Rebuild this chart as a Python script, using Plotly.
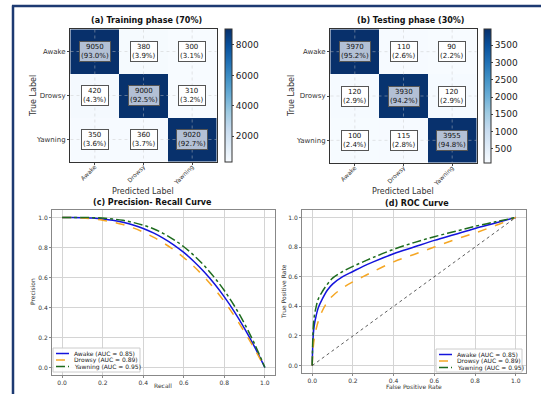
import plotly.graph_objects as go

W, H = 541, 394

classes = ["Awake", "Drowsy", "Yawning"]

train_counts = [[9050, 380, 300],
                [420, 9000, 310],
                [350, 360, 9020]]
train_pct = [["93.0%", "3.9%", "3.1%"],
             ["4.3%", "92.5%", "3.2%"],
             ["3.6%", "3.7%", "92.7%"]]

test_counts = [[3970, 110, 90],
               [120, 3930, 120],
               [100, 115, 3955]]
test_pct = [["95.2%", "2.6%", "2.2%"],
            ["2.9%", "94.2%", "2.9%"],
            ["2.4%", "2.8%", "94.8%"]]

recall = [0.0, 0.05, 0.1, 0.15, 0.2, 0.25, 0.3, 0.35, 0.4, 0.45, 0.5,
          0.55, 0.6, 0.65, 0.7, 0.75, 0.8, 0.85, 0.9, 0.95, 1.0]
prec_awake = [1.0, 1.0, 0.999, 0.996, 0.990, 0.981, 0.968, 0.950, 0.927, 0.897, 0.861,
              0.818, 0.767, 0.707, 0.638, 0.560, 0.471, 0.371, 0.259, 0.136, 0.0]
prec_drowsy = [1.0, 1.0, 0.997, 0.991, 0.982, 0.970, 0.953, 0.931, 0.903, 0.869, 0.830,
               0.785, 0.733, 0.673, 0.605, 0.527, 0.440, 0.343, 0.236, 0.121, 0.0]
prec_yawning = [1.0, 1.0, 1.0, 0.999, 0.996, 0.990, 0.981, 0.967, 0.949, 0.925, 0.893,
                0.853, 0.805, 0.747, 0.680, 0.602, 0.513, 0.410, 0.291, 0.155, 0.0]

fpr = [0.0, 0.005, 0.01, 0.02, 0.03, 0.05, 0.075, 0.1, 0.15, 0.2, 0.25, 0.3,
       0.4, 0.5, 0.6, 0.7, 0.8, 0.9, 1.0]
tpr_awake = [0.0, 0.2, 0.27, 0.34, 0.39, 0.45, 0.51, 0.55, 0.60, 0.635, 0.67, 0.70,
             0.755, 0.80, 0.845, 0.885, 0.925, 0.962, 1.0]
tpr_drowsy = [0.0, 0.12, 0.18, 0.25, 0.30, 0.37, 0.43, 0.47, 0.525, 0.565, 0.60, 0.635,
              0.70, 0.75, 0.80, 0.85, 0.895, 0.945, 1.0]
tpr_yawning = [0.0, 0.25, 0.33, 0.40, 0.45, 0.50, 0.55, 0.59, 0.635, 0.67, 0.70, 0.73,
               0.785, 0.83, 0.87, 0.905, 0.94, 0.97, 1.0]
chance = [0.0, 1.0]

legend_names = ["Awake (AUC = 0.85)", "Drowsy (AUC = 0.89)", "Yawning (AUC = 0.95)"]


def px_x(p):
    return p / W


def px_y(p):
    return 1 - p / H


fig = go.Figure()
FONT = "DejaVu Sans"
TXT = "#333"


# ---------- heatmaps ----------
def add_cm(counts, pct, xa, ya, cb_x, cb_y0, cb_y1, dtick):
    zmin = min(min(r) for r in counts)
    zmax = max(max(r) for r in counts)
    fig.add_trace(go.Heatmap(
        z=counts, x=classes, y=classes, xaxis=xa, yaxis=ya,
        colorscale="Blues", zmin=zmin, zmax=zmax, showscale=True,
        hoverinfo="skip",
        colorbar=dict(x=px_x(cb_x), xanchor="left", thickness=7,
                      len=(cb_y1 - cb_y0) / H, y=px_y((cb_y0 + cb_y1) / 2),
                      yanchor="middle", outlinewidth=1, outlinecolor="#333",
                      tickfont=dict(size=9, color="#222", family=FONT),
                      ticks="outside", ticklen=2, dtick=dtick, tick0=0,
                      xpad=0, ypad=0)))
    xref = xa.replace("axis", "")
    yref = ya.replace("axis", "")
    for k in range(3):
        fig.add_shape(type="line", xref=xref, yref=yref, x0=k, x1=k, y0=-0.5, y1=2.5,
                      line=dict(color="rgba(200,200,200,0.45)", width=1, dash="dot"),
                      layer="above")
        fig.add_shape(type="line", xref=xref, yref=yref, x0=-0.5, x1=2.5, y0=k, y1=k,
                      line=dict(color="rgba(200,200,200,0.45)", width=1, dash="dot"),
                      layer="above")
    for i in range(3):
        for j in range(3):
            diag = i == j
            fig.add_annotation(
                x=classes[j], y=classes[i], xref=xref, yref=yref,
                text=f"{counts[i][j]}<br>({pct[i][j]})", showarrow=False,
                font=dict(size=7, color="#111", family=FONT),
                bgcolor="#b3c0d5" if diag else "white",
                bordercolor="#555", borderwidth=1, borderpad=1)


add_cm(train_counts, train_pct, "x", "y", 225, 29, 162, 2000)
add_cm(test_counts, test_pct, "x2", "y2", 484, 29, 163, 500)

hm_axis = dict(showgrid=False, zeroline=False, showline=True, linecolor="#333",
               linewidth=1, mirror=True, ticks="outside", ticklen=2)
xfont = dict(size=6, color=TXT, family=FONT)
yfont = dict(size=7, color=TXT, family=FONT)

fig.update_layout(
    xaxis=dict(domain=[px_x(70), px_x(217)], anchor="y", tickangle=-45,
               tickfont=xfont, ticklabelstandoff=-4, **hm_axis),
    yaxis=dict(domain=[px_y(162), px_y(29)], anchor="x", autorange="reversed",
               tickfont=yfont, **hm_axis),
    xaxis2=dict(domain=[px_x(330), px_x(477)], anchor="y2", tickangle=-45,
                tickfont=xfont, ticklabelstandoff=-4, **hm_axis),
    yaxis2=dict(domain=[px_y(163), px_y(29)], anchor="x2", autorange="reversed",
                tickfont=yfont, **hm_axis),
)

# ---------- PR and ROC curves ----------
styles = [dict(color="#1414dc", dash="solid"),
          dict(color="#f5a623", dash="dash"),
          dict(color="#1e6b1e", dash="dashdot")]

pr_series = [prec_awake, prec_drowsy, prec_yawning]
for k in range(3):
    fig.add_trace(go.Scatter(x=recall, y=pr_series[k], mode="lines", name=legend_names[k],
                             line=dict(width=1.5, shape="spline", **styles[k]),
                             xaxis="x3", yaxis="y3", showlegend=False, hoverinfo="skip"))

roc_series = [tpr_awake, tpr_drowsy, tpr_yawning]
for k in range(3):
    fig.add_trace(go.Scatter(x=fpr, y=roc_series[k], mode="lines", name=legend_names[k],
                             line=dict(width=1.5, shape="spline", **styles[k]),
                             xaxis="x4", yaxis="y4", showlegend=False, hoverinfo="skip"))
fig.add_trace(go.Scatter(x=chance, y=chance, mode="lines", showlegend=False,
                         line=dict(width=0.8, color="#333", dash="dot"),
                         xaxis="x4", yaxis="y4", hoverinfo="skip"))

curve_axis = dict(range=[-0.05, 1.05], dtick=0.2, tickformat=".1f", showgrid=True,
                  gridcolor="#d4d4d4", gridwidth=1, zeroline=False, showline=True,
                  linecolor="#888", linewidth=1, mirror=True, ticks="outside",
                  ticklen=2, tickcolor="#888",
                  tickfont=dict(size=6, color=TXT, family=FONT))

fig.update_layout(
    xaxis3=dict(domain=[px_x(52), px_x(275)], anchor="y3", **curve_axis),
    yaxis3=dict(domain=[px_y(375), px_y(210)], anchor="x3", **curve_axis),
    xaxis4=dict(domain=[px_x(302), px_x(526)], anchor="y4", **curve_axis),
    yaxis4=dict(domain=[px_y(373), px_y(210)], anchor="x4", **curve_axis),
)


# ---------- compact legends ----------
def add_legend(x0, x1, y0, y1):
    fig.add_shape(type="rect", xref="paper", yref="paper",
                  x0=px_x(x0), x1=px_x(x1), y0=px_y(y1), y1=px_y(y0),
                  line=dict(color="#cccccc", width=1),
                  fillcolor="rgba(255,255,255,0.9)", layer="above")
    rows = [y0 + 5.5, y0 + 12, y0 + 18.5]
    for k in range(3):
        fig.add_shape(type="line", xref="paper", yref="paper",
                      x0=px_x(x0 + 3), x1=px_x(x0 + 16), y0=px_y(rows[k]), y1=px_y(rows[k]),
                      line=dict(width=1.5, **styles[k]), layer="above")
        fig.add_annotation(x=px_x(x0 + 19), y=px_y(rows[k]), xref="paper", yref="paper",
                           text=legend_names[k], showarrow=False, xanchor="left",
                           yanchor="middle", font=dict(size=6, color="#222", family=FONT))


add_legend(53, 140, 348, 372)
add_legend(436, 522, 349, 372)

# ---------- titles ----------
titles = [("(a) Training phase (70%)", 146, 21),
          ("(b) Testing phase (30%)", 410, 21),
          ("(c) Precision- Recall Curve", 152, 202),
          ("(d) ROC Curve", 417, 203)]
for txt, xx, yy in titles:
    fig.add_annotation(x=px_x(xx), y=px_y(yy), xref="paper", yref="paper",
                       text=f"<b>{txt}</b>", showarrow=False,
                       font=dict(size=8, color="#111", family=FONT),
                       xanchor="center", yanchor="middle")

# ---------- axis titles ----------
axis_titles = [("Predicted Label", 143, 191, 0, 8),
               ("Predicted Label", 403, 191, 0, 8),
               ("True Label", 33, 96, -90, 8),
               ("True Label", 291, 96, -90, 8),
               ("Recall", 163, 385, 0, 6),
               ("Precision", 32, 292, -90, 6),
               ("False Positive Rate", 414, 386, 0, 6),
               ("True Positive Rate", 283, 292, -90, 6)]
for txt, xx, yy, ang, fs in axis_titles:
    fig.add_annotation(x=px_x(xx), y=px_y(yy), xref="paper", yref="paper",
                       text=txt, showarrow=False, textangle=ang,
                       font=dict(size=fs, color=TXT, family=FONT),
                       xanchor="center", yanchor="middle")

# ---------- frame ----------
fig.add_shape(type="line", xref="paper", yref="paper", x0=px_x(13), x1=px_x(13),
              y0=0, y1=px_y(5.5), line=dict(color="#1d3a72", width=2.5))
fig.add_shape(type="line", xref="paper", yref="paper", x0=px_x(12), x1=1,
              y0=px_y(6), y1=px_y(6), line=dict(color="#1d3a72", width=2.5))

fig.update_layout(width=W, height=H, margin=dict(l=0, r=0, t=0, b=0),
                  paper_bgcolor="white", plot_bgcolor="white", showlegend=False,
                  font=dict(family=FONT))

fig.write_html("out.html", config={"displayModeBar": False},
               post_script="document.body.style.margin='0px';document.body.style.padding='0px';")
